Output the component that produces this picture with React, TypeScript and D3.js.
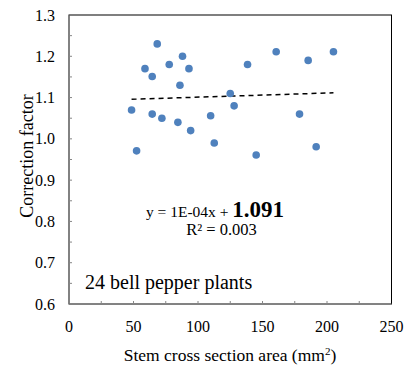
import React, { useRef, useEffect } from "react";
import * as d3 from "d3";

// stem cross section area (mm2) vs correction factor, 24 plants
const areaValues = [48.5, 52.4, 58.9, 64.5, 64.5, 68.4, 72, 77.7, 84.4, 86, 88, 93, 94.3, 109.8, 112.6, 125, 128, 138.4, 145.1, 160.6, 178.7, 185.4, 191.6, 205];
const factorValues = [1.07, 0.971, 1.17, 1.151, 1.06, 1.23, 1.05, 1.18, 1.04, 1.13, 1.2, 1.17, 1.02, 1.056, 0.99, 1.11, 1.08, 1.18, 0.961, 1.211, 1.06, 1.19, 0.981, 1.211];
const xTicks = [0, 50, 100, 150, 200, 250];
const yTicks = [0.6, 0.7, 0.8, 0.9, 1.0, 1.1, 1.2, 1.3];
const trendSlope = 1e-4;
const trendIntercept = 1.091;

const font = "'Liberation Serif', 'Times New Roman', serif";

const App = () => {
  const svgRef = useRef<SVGSVGElement>(null);

  useEffect(() => {
    const width = 404, height = 366;
    const left = 69, right = 391.5, top = 15, bottom = 304;

    const svg = d3.select(svgRef.current).attr("width", width).attr("height", height);
    svg.selectAll("*").remove();

    const x = d3.scaleLinear().domain([0, 250]).range([left, right]);
    const y = d3.scaleLinear().domain([0.6, 1.3]).range([bottom, top]);

    // plot border
    svg.append("rect")
      .attr("x", left).attr("y", top)
      .attr("width", right - left).attr("height", bottom - top)
      .attr("fill", "none").attr("stroke", "#000").attr("stroke-width", 1);

    // axis lines
    svg.append("line").attr("x1", left).attr("x2", left).attr("y1", top).attr("y2", bottom)
      .attr("stroke", "#868686");
    svg.append("line").attr("x1", left).attr("x2", right).attr("y1", bottom).attr("y2", bottom)
      .attr("stroke", "#868686");

    // inside minor ticks
    svg.selectAll(".xt")
      .data(d3.range(25, 250, 25))
      .join("line")
      .attr("x1", d => x(d)).attr("x2", d => x(d))
      .attr("y1", bottom).attr("y2", bottom - 3)
      .attr("stroke", "#868686");

    svg.selectAll(".yt")
      .data(d3.range(0.65, 1.3, 0.05))
      .join("line")
      .attr("x1", left).attr("x2", left + 3)
      .attr("y1", d => y(d)).attr("y2", d => y(d))
      .attr("stroke", "#868686");

    svg.selectAll(".xl")
      .data(xTicks)
      .join("text")
      .attr("x", d => x(d))
      .attr("y", 331.5)
      .attr("text-anchor", "middle")
      .attr("font-family", font).attr("font-size", 16)
      .text(d => d);

    svg.selectAll(".yl")
      .data(yTicks)
      .join("text")
      .attr("x", 55)
      .attr("y", d => y(d) + 5.5)
      .attr("text-anchor", "end")
      .attr("font-family", font).attr("font-size", 16)
      .text(d => d.toFixed(1));

    // trend line
    const [xMin, xMax] = d3.extent(areaValues) as [number, number];
    svg.append("line")
      .attr("x1", x(xMin)).attr("x2", x(xMax))
      .attr("y1", y(trendSlope * xMin + trendIntercept))
      .attr("y2", y(trendSlope * xMax + trendIntercept))
      .attr("stroke", "#000").attr("stroke-width", 1.5)
      .attr("stroke-dasharray", "5,4");

    svg.selectAll("circle")
      .data(areaValues.map((a, i) => ({ a, f: factorValues[i] })))
      .join("circle")
      .attr("cx", d => x(d.a))
      .attr("cy", d => y(d.f))
      .attr("r", 3.8)
      .attr("fill", "#4f81bd");

    // equation
    const eq = svg.append("text")
      .attr("x", 215).attr("y", 217)
      .attr("text-anchor", "middle")
      .attr("font-family", font);
    eq.append("tspan").attr("font-size", 15.5).text("y = 1E-04x + ");
    eq.append("tspan").attr("font-size", 23).attr("font-weight", "bold").text("1.091");

    svg.append("text")
      .attr("x", 221.5).attr("y", 235)
      .attr("text-anchor", "middle")
      .attr("font-family", font).attr("font-size", 16.5)
      .text("R² = 0.003");

    svg.append("text")
      .attr("x", 85).attr("y", 289)
      .attr("font-family", font).attr("font-size", 20)
      .text("24 bell pepper plants");

    // axis titles
    const xt = svg.append("text")
      .attr("x", 230).attr("y", 361)
      .attr("text-anchor", "middle")
      .attr("font-family", font).attr("font-size", 17.5);
    xt.append("tspan").text("Stem cross section area (mm");
    xt.append("tspan").attr("font-size", 11).attr("dy", -6).text("2");
    xt.append("tspan").attr("dy", 6).text(")");

    svg.append("text")
      .attr("transform", "translate(33,156) rotate(-90)")
      .attr("text-anchor", "middle")
      .attr("font-family", font).attr("font-size", 18)
      .text("Correction factor");
  }, []);

  return (
    <div style={{ position: "absolute", left: 0, top: 0 }}>
      <svg ref={svgRef}></svg>
    </div>
  );
};

export default App;
